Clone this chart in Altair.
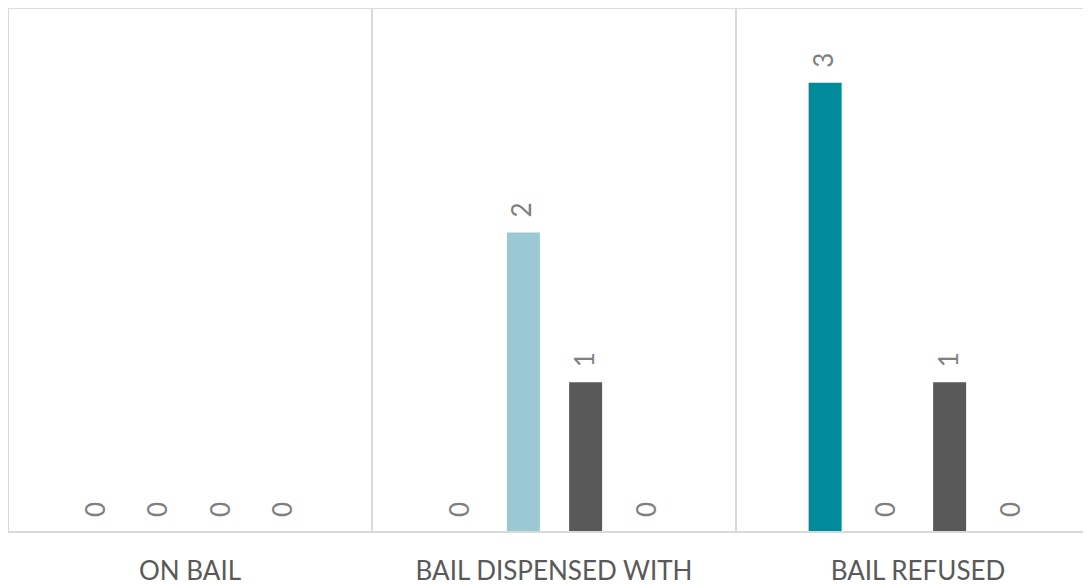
import altair as alt
import pandas as pd

categories = ["ON BAIL", "BAIL DISPENSED WITH", "BAIL REFUSED"]
series = ["Series 1", "Series 2", "Series 3", "Series 4"]
values_s1 = [0, 0, 3]
values_s2 = [0, 2, 0]
values_s3 = [0, 1, 1]
values_s4 = [0, 0, 0]
colors = ["#008B9B", "#9BC9D3", "#595959", "#A5A5A5"]

rows = []
for s, vals in zip(series, [values_s1, values_s2, values_s3, values_s4]):
    for c, v in zip(categories, vals):
        rows.append({"category": c, "series": s, "value": v})
df = pd.DataFrame(rows)
grid_df = pd.DataFrame({"category": categories})

# the plot area runs past the right edge of the window, as in the reference
x_scale = alt.Scale(domain=categories, range=[0, 1092], paddingInner=0, paddingOuter=0)
y_scale = alt.Scale(domain=[0, 3.5], nice=False)
off_scale = alt.Scale(domain=series, range=[58, 307], paddingInner=0.47, paddingOuter=0.235)

x_axis = alt.Axis(title=None, labelAngle=0, ticks=False, domain=False, grid=False,
                  labelFont="Lato", labelFontSize=26, labelColor="#595959",
                  labelPadding=26, labelLimit=0)

grid = alt.Chart(grid_df).mark_rule(color="#D9D9D9", strokeWidth=2).encode(
    x=alt.X("category:N", scale=x_scale, axis=x_axis, bandPosition=0, sort=categories),
    y=alt.value(0),
    y2=alt.value(524),
)

baseline = alt.Chart(grid_df).mark_rule(color="#D9D9D9", strokeWidth=2).encode(
    x=alt.value(0), x2=alt.value(1092), y=alt.value(524)
)

bars = alt.Chart(df).mark_bar().encode(
    x=alt.X("category:N", scale=x_scale, axis=x_axis, sort=categories),
    xOffset=alt.XOffset("series:N", scale=off_scale, sort=series),
    y=alt.Y("value:Q", scale=y_scale, axis=None),
    color=alt.Color("series:N", scale=alt.Scale(domain=series, range=colors), legend=None),
)

labels = alt.Chart(df).mark_text(angle=270, align="left", baseline="middle", dx=15,
                                 font="Lato", fontSize=26, color="#7F7F7F").encode(
    x=alt.X("category:N", scale=x_scale, axis=x_axis, sort=categories),
    xOffset=alt.XOffset("series:N", scale=off_scale, sort=series),
    y=alt.Y("value:Q", scale=y_scale, axis=None),
    text=alt.Text("value:Q"),
)

chart = alt.layer(grid, bars, baseline, labels).properties(
    width=1075, height=524,
    autosize=alt.AutoSizeParams(type="none"),
    padding={"left": 0, "right": 0, "top": 0, "bottom": 52},
).configure_view(stroke=None).configure(background="white")

chart.save("out.html", embed_options={"renderer": "svg", "actions": False})
